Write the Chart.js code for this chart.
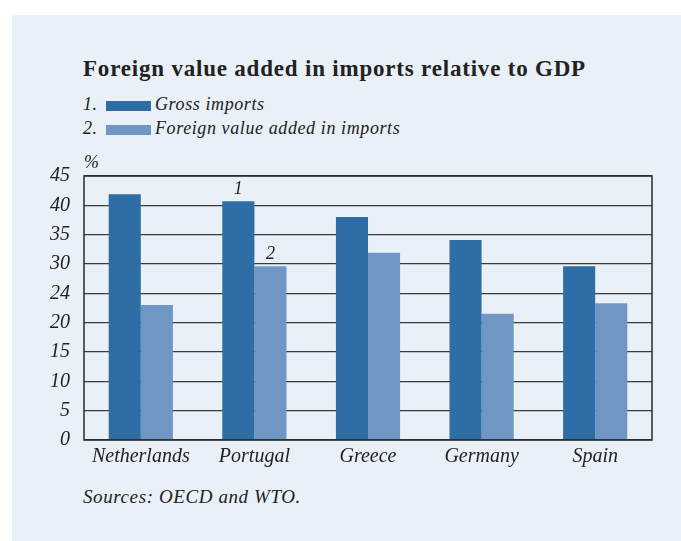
<!DOCTYPE html>
<html>
<head>
<meta charset="utf-8">
<script src="https://cdn.jsdelivr.net/npm/chart.js@4"></script>
<style>
  body { margin: 0; background: #fff; width: 681px; height: 541px; overflow: hidden; }
  #panel { position: absolute; left: 12px; top: 15px; width: 669px; height: 526px; background: #e9f0f8; }
  .txt { position: absolute; font-family: 'Liberation Serif', serif; color: #222; white-space: nowrap; }
  #title { left: 71px; top: 41px; font-size: 23px; font-weight: bold; letter-spacing: 0.8px; }
  .leg { font-style: italic; font-size: 18px; letter-spacing: 0.6px; }
  .box { position: absolute; width: 45px; height: 10px; }
  #src { left: 71px; top: 471px; font-style: italic; font-size: 19px; letter-spacing: 0.6px; }
  #wrap { position: absolute; left: 0; top: 125px; width: 669px; height: 340px; }
</style>
</head>
<body>
<div id="panel">
  <div id="title" class="txt">Foreign value added in imports relative to GDP</div>
  <div class="txt leg" style="left:71px;top:79px">1.</div>
  <div class="box" style="left:94px;top:86px;background:#2e6da6"></div>
  <div class="txt leg" style="left:143px;top:79px">Gross imports</div>
  <div class="txt leg" style="left:71px;top:103px">2.</div>
  <div class="box" style="left:94px;top:110px;background:#7096c3"></div>
  <div class="txt leg" style="left:143px;top:103px">Foreign value added in imports</div>
  <div id="wrap"><canvas id="myChart"></canvas></div>
  <div id="src" class="txt">Sources: OECD and WTO.</div>
</div>
<script>
const countries = ['Netherlands', 'Portugal', 'Greece', 'Germany', 'Spain'];
const gross_imports = [41.9, 40.7, 38.0, 34.1, 29.6];
const foreign_va = [23.0, 29.6, 31.9, 21.5, 23.3];
const y_ticks = ['0', '5', '10', '15', '20', '24', '30', '35', '40', '45'];

const serif = "'Liberation Serif', serif";

// frame, % sign and the 1 / 2 markers above Portugal
const extras = {
    id: 'extras',
    afterDraw(chart) {
        const c = chart.ctx, a = chart.chartArea;
        c.save();
        c.strokeStyle = '#2a2a2a';
        c.lineWidth = 1.5;
        c.strokeRect(a.left, a.top, a.right - a.left, a.bottom - a.top);
        c.fillStyle = '#222';
        c.font = 'italic 18px ' + serif;
        c.textAlign = 'left';
        c.textBaseline = 'bottom';
        c.fillText('%', a.left, a.top - 4);
        c.textAlign = 'center';
        const b1 = chart.getDatasetMeta(0).data[1];
        const b2 = chart.getDatasetMeta(1).data[1];
        c.fillText('1', b1.x, b1.y - 3);
        c.fillText('2', b2.x, b2.y - 3);
        c.restore();
    }
};

const ctx = document.getElementById('myChart');
new Chart(ctx, {
    type: 'bar',
    data: {
        labels: countries,
        datasets: [
            {label: 'Gross imports', data: gross_imports, backgroundColor: '#2e6da6'},
            {label: 'Foreign value added in imports', data: foreign_va, backgroundColor: '#7096c3'}
        ]
    },
    options: {
        responsive: true,
        maintainAspectRatio: false,
        animation: false,
        datasets: {bar: {categoryPercentage: 0.565, barPercentage: 1}},
        layout: {padding: {left: 0, right: 29, top: 36, bottom: 0}},
        scales: {
            x: {
                grid: {display: false},
                border: {display: false},
                ticks: {color: '#222', font: {family: serif, size: 20, style: 'italic'}, padding: -3},
                afterFit: s => { s.height = 40; }
            },
            y: {
                min: 0, max: 45,
                afterFit: s => { s.width = 72; },
                grid: {color: '#3a3a3a', lineWidth: 1.3, drawTicks: false},
                border: {display: false},
                ticks: {
                    stepSize: 5,
                    padding: 14,
                    color: '#222',
                    font: {family: serif, size: 20, style: 'italic'},
                    callback: (v) => y_ticks[Math.round(v / 5)]
                }
            }
        },
        plugins: {
            legend: {display: false},
            tooltip: {enabled: false}
        }
    },
    plugins: [extras]
});
</script>
</body>
</html>
